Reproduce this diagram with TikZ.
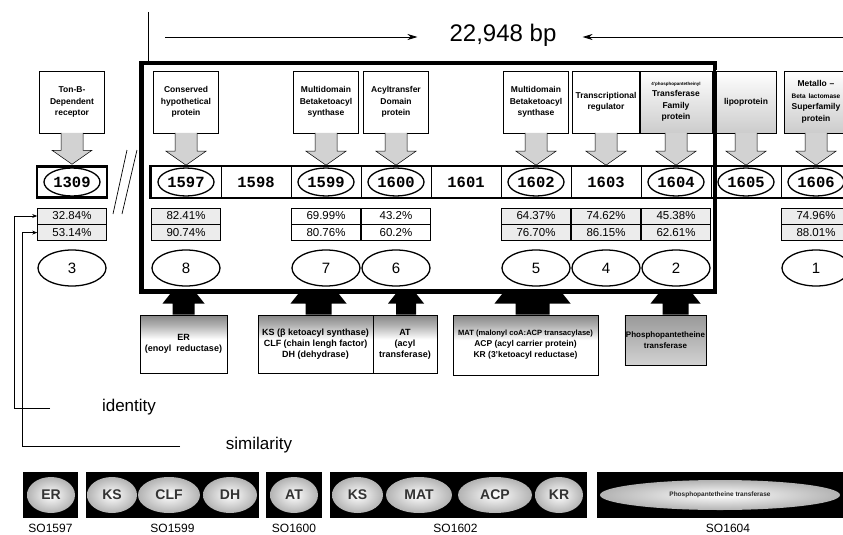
\documentclass[tikz,border=0pt]{standalone}
\usepackage{fontspec}
\setmainfont{Liberation Sans}
\setmonofont{Liberation Mono}
\usetikzlibrary{arrows.meta, positioning, shapes.geometric, calc}
\pgfdeclareverticalshading{hdrshade}{100bp}{color(0bp)=(white); color(25bp)=(white); color(54bp)=(white); color(66bp)=(gray!60); color(75bp)=(gray!95); color(100bp)=(gray!95)}

% gene label -> gene
\newcommand{\calarrow}[2]{%
  \coordinate (ca) at (#1.south);
  \coordinate (cb) at (#2.north);
  \filldraw[calfill] let \p1=(ca), \p2=(cb) in
    (\x1-11pt,\y1+0.4pt) -- (\x1-11pt,\y2+15pt) -- (\x1-20pt,\y2+15pt) -- (\x1,\y2+1pt)
    -- (\x1+20pt,\y2+15pt) -- (\x1+11pt,\y2+15pt) -- (\x1+11pt,\y1+0.4pt);}
% domain box -> cluster box
\newcommand{\domarrow}[4]{%
  \coordinate (da) at ($(#1.north)+(#2,0)$);
  \fill[black] let \p1=(da), \p2=(big.south) in
    (\x1-#3pt,\y1) -- (\x1-#3pt,\y2-10pt) -- (\x1-#4pt,\y2-10pt) -- (\x1-#4pt+8pt,\y2)
    -- (\x1+#4pt-8pt,\y2) -- (\x1+#4pt,\y2-10pt) -- (\x1+#3pt,\y2-10pt) -- (\x1+#3pt,\y1) -- cycle;}

\begin{document}
\begin{tikzpicture}[x=1pt, y=-1pt,
    callout/.style={rectangle, draw, line width=0.6pt, fill=white, minimum width=65pt, minimum height=62pt, text width=64pt, align=center, inner sep=0.5pt, font=\fontsize{8.5}{11.5}\selectfont\bfseries},
    calloutg/.style={callout, top color=white, bottom color=gray!40},
    calfill/.style={fill=gray!35, draw=black, line width=0.5pt},
    cell/.style={rectangle, draw, line width=0.6pt, minimum width=70pt, minimum height=31pt, inner sep=0pt, font=\fontsize{15.5}{16}\selectfont\ttfamily\bfseries},
    numring/.style={line width=1.3pt},
    pct/.style={rectangle, draw, line width=0.6pt, minimum width=69pt, minimum height=16pt, inner sep=0pt, font=\fontsize{11.5}{12}\selectfont},
    clus/.style={ellipse, draw, line width=1.3pt, minimum width=68pt, minimum height=36pt, inner sep=0pt, font=\fontsize{15}{15}\selectfont},
    bigbox/.style={rectangle, draw, line width=4.5pt, minimum width=573.5pt, minimum height=228pt, inner sep=0pt},
    dombox/.style={rectangle, draw, line width=0.6pt, shading=hdrshade, minimum height=58pt, align=center, inner sep=1pt, font=\fontsize{9}{11}\selectfont\bfseries},
    strip/.style={rectangle, fill=black, minimum height=46pt, inner sep=0pt},
    dom/.style={ellipse, inner color=white, outer color=gray!60, minimum height=36pt, inner sep=0pt, font=\fontsize{14}{14}\selectfont\bfseries, text=black!80},
    solab/.style={font=\fontsize{12}{12}\selectfont},
    lbl/.style={font=\fontsize{17}{17}\selectfont},
    link/.style={line width=0.7pt, -{Stealth[length=5pt,width=4pt]}},
    lenarrow/.style={line width=0.7pt, -{Stealth[length=10pt,width=6pt]}}
  ]
  \useasboundingbox (0,0) rectangle (843,535);

  % Length
  \coordinate (lenL) at (165,37);
  \coordinate (lenR) at (843,37);
  \node[inner sep=0pt, font=\fontsize{24}{24}\selectfont] (bp) at (503,35) {22,948 bp};
  \draw[lenarrow, shorten >=32pt] (lenL) -- (lenL -| bp.west);
  \draw[lenarrow, shorten >=26pt] (lenR) -- (lenR -| bp.east);

  % Genes
  \node[cell, line width=2.5pt] (c1309) at (72,182) {1309};
  \foreach \n [count=\i from 0] in {1597,...,1606}
    \node[cell] (c\n) at (186+70*\i,182) {\n};
  \draw[line width=2.5pt] (c1597.north west) rectangle (c1606.south east);
  \foreach \n in {1309,1597,1599,1600,1602,1604,1605,1606}
    \draw[numring] (c\n) ellipse [x radius=28, y radius=14];

  % Cluster box
  \node[bigbox] (big) at (428,177.25) {};
  \draw[line width=0.8pt] (148,12) -- (148,12 |- big.north);
  \draw[line width=0.7pt] (127,150) -- (113,214);
  \draw[line width=0.7pt] (137,150) -- (122,214);

  % Gene labels
  \node[callout] (t1309) at (c1309 |- 0,102) {Ton-B-\\Dependent\\receptor};
  \node[callout] (t1597) at (c1597 |- 0,102) {Conserved\\hypothetical\\protein};
  \node[callout] (t1599) at (c1599 |- 0,102) {Multidomain\\Betaketoacyl\\synthase};
  \node[callout, minimum width=64pt] (t1600) at (c1600 |- 0,102) {Acyltransfer\\Domain\\protein};
  \node[callout, minimum width=64pt] (t1602) at (c1602 |- 0,102) {Multidomain\\Betaketoacyl\\synthase};
  \node[callout, minimum width=64pt, text width=66pt] (t1603) at (c1603 |- 0,102) {Transcriptional\\regulator};
  \node[calloutg, minimum width=72pt, text width=70pt] (t1604) at (c1604 |- 0,102) {{\fontsize{4.5}{6}\selectfont 4'phosphopantetheinyl}\\Transferase\\Family\\protein};
  \node[calloutg, minimum width=60pt, text width=58pt] (t1605) at (c1605 |- 0,102) {lipoprotein};
  \node[calloutg, minimum width=64pt, text width=62pt] (t1606) at (c1606 |- 0,102) {Metallo --\\{\fontsize{6.5}{9}\selectfont Beta lactomase}\\Superfamily\\protein};
  \foreach \n in {1309,1597,1599,1600,1602,1603,1604,1605,1606}
    \calarrow{t\n}{c\n};

  % Identity / similarity
  \foreach \n/\a/\b/\f in {1309/32.84/53.14/gray!15, 1597/82.41/90.74/gray!15, 1599/69.99/80.76/white, 1600/43.2/60.2/white, 1602/64.37/76.70/gray!15, 1603/74.62/86.15/gray!15, 1604/45.38/62.61/gray!15, 1606/74.96/88.01/gray!15} {
    \node[pct, fill=\f] (id\n) at (c\n |- 0,216) {\a\%};
    \node[pct, fill=\f, below=0pt of id\n] (sim\n) {\b\%};
  }

  % Clusters
  \foreach \k/\n in {3/1309, 8/1597, 7/1599, 6/1600, 5/1602, 4/1603, 2/1604, 1/1606}
    \node[clus] (g\k) at (c\n |- 0,268) {\k};

  % Domains
  \node[dombox, minimum width=87pt] (er) at (183.5,344) {ER\\(enoyl\ \ reductase)};
  \node[dombox, minimum width=115pt] (ks) at (315.5,344) {KS (β ketoacyl synthase)\\CLF (chain lengh factor)\\DH (dehydrase)};
  \node[dombox, minimum width=64pt] (at) at (405,344) {AT\\(acyl\\transferase)};
  \node[dombox, minimum width=145pt, minimum height=60pt, font=\fontsize{8.5}{11}\selectfont\bfseries] (mat) at (525.5,345) {{\fontsize{7.6}{11}\selectfont MAT (malonyl coA:ACP transacylase)}\\ACP (acyl carrier protein)\\KR (3'ketoacyl reductase)};
  \node[dombox, minimum width=79pt, minimum height=50pt, shading=axis, top color=gray!80, bottom color=gray!35, font=\fontsize{8}{11}\selectfont\bfseries] (pp) at (665.5,340) {Phosphopantetheine\\transferase};
  \domarrow{er}{0}{11}{21}
  \domarrow{ks}{3}{13}{28}
  \domarrow{at}{1}{10}{18}
  \domarrow{mat}{7}{17}{38}
  \domarrow{pp}{10}{13}{25}

  % Legend
  \coordinate (idtail) at (50,408);
  \coordinate (simtail) at (180,446);
  \node[lbl] (idlab) at (129,407) {identity};
  \node[lbl] (simlab) at (259,445) {similarity};
  \draw[link] (idtail) -- ++(-36,0) |- (id1309.west);
  \draw[link] (simtail) -- ++(-158,0) |- (sim1309.west);

  % Domain strip
  \node[strip, minimum width=55pt] (d1597) at (50.5,495) {};
  \node[strip, minimum width=173pt] (d1599) at (172.5,495) {};
  \node[strip, minimum width=56pt] (d1600) at (294,495) {};
  \node[strip, minimum width=257pt] (d1602) at (458.5,495) {};
  \node[strip, minimum width=250pt] (d1604) at (722,495) {};
  \node[dom, minimum width=48pt] (eER) at (51,495) {ER};
  \node[dom, minimum width=50pt] (eKSa) at (112,495) {KS};
  \node[dom, minimum width=62pt] (eCLF) at (169,495) {CLF};
  \node[dom, minimum width=54pt] (eDH) at (230,495) {DH};
  \node[dom, minimum width=48pt] (eAT) at (294,495) {AT};
  \node[dom, minimum width=51pt] (eKSb) at (357.5,495) {KS};
  \node[dom, minimum width=66pt] (eMAT) at (419,495) {MAT};
  \node[dom, minimum width=74pt] (eACP) at (495,495) {ACP};
  \node[dom, minimum width=48pt] (eKR) at (559,495) {KR};
  \node[dom, minimum width=240pt, minimum height=30pt, font=\fontsize{6.5}{7}\selectfont\bfseries, text=black!85] (ePP) at (720,495) {Phosphopantetheine transferase};
  \node[solab, below=2pt of d1597] {SO1597};
  \node[solab, below=2pt of d1599] {SO1599};
  \node[solab, below=2pt of d1600] {SO1600};
  \node[solab, below=2pt of d1602, xshift=-3pt] {SO1602};
  \node[solab, below=2pt of d1604, xshift=6pt] {SO1604};
\end{tikzpicture}
\end{document}
